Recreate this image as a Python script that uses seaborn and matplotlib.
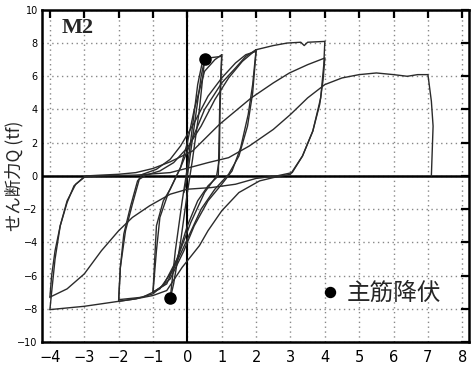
import matplotlib
matplotlib.use("Agg")
import matplotlib.pyplot as plt
import seaborn as sns
import pandas as pd

# hysteresis branches: displacement x, shear force Q (tf)
s1_x = [-0.1, 0.0, 0.2, 0.4, 0.5]
s1_y = [-1.0, 0.0, 3.0, 6.0, 7.0]
s2_x = [0.5, 0.35, 0.15, 0.0, -0.2, -0.4, -0.5]
s2_y = [7.0, 4.0, 1.0, -1.0, -4.0, -6.5, -7.4]
s3_x = [-0.5, -0.35, -0.15, 0.0, 0.15, 0.3, 0.45, 0.6]
s3_y = [-7.4, -4.5, -1.5, 0.5, 3.0, 5.5, 7.0, 7.1]
l1_x = [0.6, 0.8, 1.0]
l1_y = [7.1, 7.15, 7.2]
u1_x = [1.0, 0.95, 0.92, 0.9, 0.6, 0.3, 0.0, -0.3, -0.6, -1.0]
u1_y = [7.2, 5.0, 2.0, 0.0, -0.6, -1.5, -3.0, -5.0, -6.5, -7.0]
n1_x = [-1.0, -0.95, -0.9, -0.7, -0.5, -0.2, 0.0, 0.2, 0.5, 0.8, 1.0]
n1_y = [-7.0, -5.0, -3.0, -1.5, -0.8, 0.5, 2.0, 4.0, 6.3, 7.0, 7.3]
u1b_x = [1.0, 0.95, 0.93, 0.85, 0.5, 0.1, -0.3, -0.7, -1.0]
u1b_y = [7.3, 4.0, 1.0, 0.0, -1.0, -2.8, -5.0, -6.6, -7.0]
n1b_x = [-1.0, -0.9, -0.8, -0.55, -0.2, 0.1, 0.5, 1.0, 1.4, 1.7, 2.0]
n1b_y = [-7.0, -4.5, -2.5, -1.0, 0.5, 2.0, 4.0, 5.6, 6.5, 7.2, 7.6]
u2_x = [2.0, 1.9, 1.77, 1.55, 1.3, 1.0, 0.6, 0.2, -0.1, -0.5, -1.0, -1.5, -2.0]
u2_y = [7.6, 5.5, 3.7, 1.7, 0.3, -0.5, -1.5, -3.0, -4.5, -6.2, -7.1, -7.4, -7.55]
n2_x = [-2.0, -1.95, -1.85, -1.65, -1.45, -1.3, -0.9, -0.5, -0.2, 0.2, 0.6, 1.0, 1.4, 1.7, 2.0]
n2_y = [-7.55, -5.5, -3.5, -1.8, -0.3, 0.1, 0.4, 1.0, 1.8, 3.2, 4.8, 5.9, 6.8, 7.3, 7.5]
u2b_x = [2.0, 1.9, 1.75, 1.5, 1.2, 0.8, 0.4, 0.0, -0.4, -0.8, -1.3, -2.0]
u2b_y = [7.5, 5.0, 3.0, 1.2, 0.1, -0.8, -2.0, -3.8, -5.6, -6.8, -7.3, -7.45]
n2b_x = [-2.0, -1.95, -1.8, -1.6, -1.4, -1.2, -0.8, -0.4, 0.0, 0.4, 0.8, 1.2, 1.6,
         2.0, 2.5, 2.9, 3.3, 3.4, 3.5, 4.0]
n2b_y = [-7.45, -5.5, -3.3, -1.7, -0.2, 0.05, 0.3, 0.8, 1.7, 3.0, 4.6, 5.9, 6.9,
         7.6, 7.85, 8.0, 8.05, 7.85, 8.05, 8.1]
u4_x = [4.0, 3.97, 3.88, 3.65, 3.35, 3.0, 2.5, 2.1, 1.5, 1.0, 0.6, 0.35, -0.15,
        -0.6, -1.0, -1.5, -2.0, -2.5, -3.0, -3.5, -4.0]
u4_y = [8.1, 6.7, 4.7, 2.7, 1.2, 0.1, -0.1, -0.3, -1.0, -2.1, -3.3, -4.2, -5.5,
        -6.9, -7.2, -7.4, -7.55, -7.7, -7.85, -7.95, -8.05]
n4_x = [-4.0, -3.95, -3.85, -3.7, -3.5, -3.25, -2.95, -2.5, -2.0, -1.5, -1.0, -0.5,
        0.15, 0.93, 1.86, 2.5, 2.97, 3.5, 4.0]
n4_y = [-8.05, -7.0, -5.0, -3.0, -1.5, -0.5, 0.0, 0.05, 0.1, 0.2, 0.45, 0.85,
        1.5, 3.1, 4.7, 5.6, 6.2, 6.7, 7.1]
u4b_x = [4.0, 3.95, 3.85, 3.65, 3.35, 3.05, 2.6, 2.0, 1.4, 0.7, 0.0, -0.5, -1.1,
         -1.6, -2.0, -2.5, -3.0, -3.5, -4.0]
u4b_y = [7.1, 5.8, 4.3, 2.7, 1.2, 0.2, 0.0, -0.15, -0.5, -0.7, -0.8, -1.1, -1.8,
         -2.5, -3.3, -4.5, -5.9, -6.8, -7.3]
n4b_x = [-4.0, -3.95, -3.85, -3.7, -3.5, -3.3, -3.0, -2.5, -1.5, -0.5, 0.06, 0.6,
         1.2, 1.8, 2.5, 3.0, 3.5, 4.0, 4.5, 5.0, 5.5, 6.0, 6.4, 6.7, 7.0, 7.1, 7.15, 7.1]
n4b_y = [-7.3, -6.0, -4.5, -3.0, -1.6, -0.6, -0.05, 0.0, 0.05, 0.2, 0.5, 0.8,
         1.1, 1.8, 2.8, 3.7, 4.7, 5.5, 5.9, 6.1, 6.2, 6.1, 6.0, 6.1, 6.1, 4.5, 3.0, 0.0]

branches = {
    "s1": (s1_x, s1_y), "s2": (s2_x, s2_y), "s3": (s3_x, s3_y), "l1": (l1_x, l1_y),
    "u1": (u1_x, u1_y), "n1": (n1_x, n1_y), "u1b": (u1b_x, u1b_y), "n1b": (n1b_x, n1b_y),
    "u2": (u2_x, u2_y), "n2": (n2_x, n2_y), "u2b": (u2b_x, u2b_y), "n2b": (n2b_x, n2b_y),
    "u4": (u4_x, u4_y), "n4": (n4_x, n4_y), "u4b": (u4b_x, u4b_y), "n4b": (n4b_x, n4b_y),
}

# rebar yield points
yield_x = [0.5, -0.52]
yield_y = [7.05, -7.35]

x_ticks = list(range(-4, 9))
y_ticks = list(range(-10, 11, 2))

rows = []
for name, (xs, ys) in branches.items():
    for i, (xv, yv) in enumerate(zip(xs, ys)):
        rows.append({"branch": name, "order": i, "x": xv, "Q": yv})
df = pd.DataFrame(rows)

sns.set_style("white")
plt.rcParams["font.family"] = ["DejaVu Sans", "Noto Sans CJK JP"]

fig = plt.figure(figsize=(4.72, 3.65), dpi=100)
ax = fig.add_axes([0.089, 0.063, 0.905, 0.91])

ax.grid(True, linestyle=(0, (1, 2.5)), color="#888888", linewidth=1.0)
ax.axhline(0, color="black", lw=1.8, zorder=3)
ax.axvline(0, color="black", lw=1.5, zorder=3)

sns.lineplot(data=df, x="x", y="Q", units="branch", estimator=None, sort=False,
             color="#2b2b2b", lw=1.0, ax=ax, zorder=4)
ax.plot(yield_x, yield_y, "o", color="black", ms=8, zorder=5, label="主筋降伏")

ax.set_xlim(-4.23, 8.2)
ax.set_ylim(-10, 10)
ax.set_xticks(x_ticks)
ax.set_yticks(y_ticks)
ax.tick_params(axis="x", labelsize=10.5, pad=6)
ax.tick_params(axis="y", labelsize=7, pad=3)
ax.tick_params(direction="in", length=6, width=1.6, top=True, right=True,
               colors="black")
for sp in ax.spines.values():
    sp.set_linewidth(1.8)
    sp.set_color("black")

ax.set_xlabel("")
ax.set_ylabel("せん断力Q (tf)", family=["Noto Sans CJK JP", "DejaVu Sans"],
              fontsize=12.5)
ax.yaxis.set_label_coords(-0.043, 0.5)
ax.text(0.045, 0.975, "M2", transform=ax.transAxes, ha="left", va="top",
        family="Liberation Serif", fontweight="bold", fontsize=16)
leg = ax.legend(loc="center left", bbox_to_anchor=(0.596, 0.145), frameon=False,
                handletextpad=0.2, handlelength=1.0, markerscale=0.9,
                prop={"family": ["Noto Sans CJK JP"], "size": 17})

fig.savefig("out.png", dpi=100)
